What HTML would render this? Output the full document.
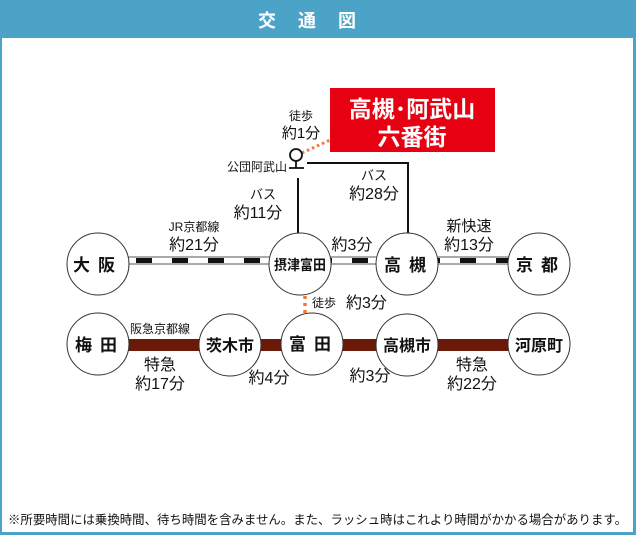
<!DOCTYPE html>
<html><head><meta charset="utf-8"><style>
html,body{margin:0;padding:0;background:#fff}
svg{display:block}
text{font-family:"Liberation Sans","Noto Sans CJK JP",sans-serif;fill:#111}
</style></head><body>
<svg width="636" height="535" xmlns="http://www.w3.org/2000/svg">
<rect x="0" y="0" width="636" height="535" fill="#4ba3c7"/>
<rect x="2" y="38" width="631" height="494" fill="#fff"/>
<text x="318" y="27" font-size="18" font-weight="bold" text-anchor="middle" style="fill:#fff" letter-spacing="22">交通図</text>

<!-- red box -->
<rect x="330" y="88" width="165" height="64" fill="#e60012"/>
<text x="412" y="117" font-size="23" font-weight="bold" text-anchor="middle" style="fill:#fff">高槻･阿武山</text>
<text x="412" y="145" font-size="23" font-weight="bold" text-anchor="middle" style="fill:#fff">六番街</text>
<line x1="302" y1="153" x2="330" y2="140" stroke="#f07838" stroke-width="3" stroke-dasharray="2.5 3"/>
<text x="301" y="120" font-size="12" text-anchor="middle">徒歩</text>
<text x="301" y="138" font-size="15" text-anchor="middle">約1分</text>

<!-- bus stop -->
<circle cx="296" cy="155" r="6" fill="#fff" stroke="#111" stroke-width="1.8"/>
<line x1="296" y1="161" x2="296" y2="168" stroke="#111" stroke-width="1.8"/>
<line x1="289" y1="168" x2="304" y2="168" stroke="#111" stroke-width="1.8"/>
<text x="287" y="171" font-size="12" text-anchor="end">公団阿武山</text>
<polyline points="307,163 408,163 408,234" fill="none" stroke="#111" stroke-width="2"/>
<line x1="298" y1="178" x2="298" y2="234" stroke="#111" stroke-width="2"/>
<text x="263" y="199" font-size="13" text-anchor="middle">バス</text>
<text x="258" y="218" font-size="16" text-anchor="middle">約11分</text>
<text x="374" y="180" font-size="13" text-anchor="middle">バス</text>
<text x="374" y="199" font-size="16" text-anchor="middle">約28分</text>

<!-- JR line -->
<g>
<rect x="126" y="257" width="440" height="7" fill="#fff" stroke="#555" stroke-width="1"/>
<line x1="126" y1="260.5" x2="566" y2="260.5" stroke="#111" stroke-width="5" stroke-dasharray="16 20" stroke-dashoffset="-10"/>
</g>
<text x="194" y="231" font-size="12" text-anchor="middle">JR京都線</text>
<text x="194" y="250" font-size="16" text-anchor="middle">約21分</text>
<text x="352" y="250" font-size="16" text-anchor="middle">約3分</text>
<text x="469" y="231" font-size="15" text-anchor="middle">新快速</text>
<text x="469" y="250" font-size="16" text-anchor="middle">約13分</text>

<!-- walking -->
<line x1="305" y1="296" x2="305" y2="314" stroke="#f07838" stroke-width="3.5" stroke-dasharray="3 4"/>
<text x="312" y="307" font-size="12">徒歩</text>
<text x="346" y="308" font-size="16">約3分</text>

<!-- Hankyu line -->
<rect x="126" y="339" width="440" height="12" fill="#6b1a0a"/>
<text x="160" y="333" font-size="12" text-anchor="middle">阪急京都線</text>
<text x="160" y="370" font-size="16" text-anchor="middle">特急</text>
<text x="160" y="389" font-size="16" text-anchor="middle">約17分</text>
<text x="269" y="383" font-size="16" text-anchor="middle">約4分</text>
<text x="370" y="381" font-size="16" text-anchor="middle">約3分</text>
<text x="472" y="370" font-size="16" text-anchor="middle">特急</text>
<text x="472" y="389" font-size="16" text-anchor="middle">約22分</text>

<!-- circles -->
<g fill="#fff" stroke="#333" stroke-width="1">
<circle cx="98" cy="264" r="31"/>
<circle cx="300" cy="264" r="31"/>
<circle cx="407" cy="264" r="31"/>
<circle cx="539" cy="264" r="31"/>
<circle cx="98" cy="344" r="31"/>
<circle cx="230" cy="345" r="31"/>
<circle cx="312" cy="344" r="31"/>
<circle cx="407" cy="345" r="31"/>
<circle cx="539" cy="344" r="31"/>
</g>
<g font-size="17" font-weight="bold" text-anchor="middle">
<text x="98" y="271" letter-spacing="8">大阪</text>
<text x="300" y="270" font-size="14" textLength="52" lengthAdjust="spacingAndGlyphs">摂津富田</text>
<text x="409" y="271" letter-spacing="8">高槻</text>
<text x="541" y="271" letter-spacing="8">京都</text>
<text x="100" y="351" letter-spacing="8">梅田</text>
<text x="230" y="351" font-size="16">茨木市</text>
<text x="314" y="350" letter-spacing="8">富田</text>
<text x="407" y="351" font-size="16">高槻市</text>
<text x="539" y="351" font-size="16">河原町</text>
</g>

<text x="8" y="524" font-size="12.5" textLength="619" lengthAdjust="spacingAndGlyphs">※所要時間には乗換時間、待ち時間を含みません。また、ラッシュ時はこれより時間がかかる場合があります。</text>
</svg>
</body></html>
